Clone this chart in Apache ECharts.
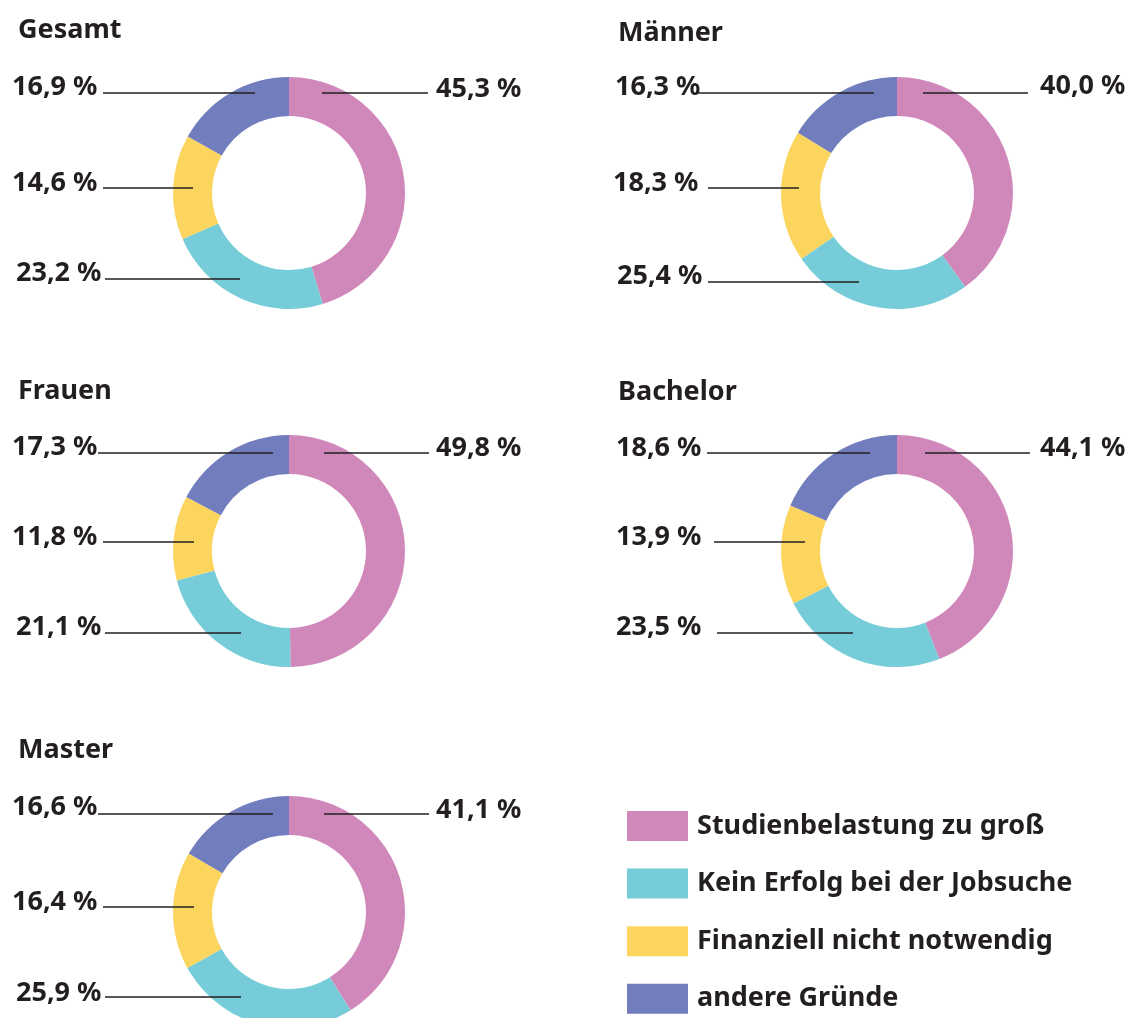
<!DOCTYPE html>
<html>
<head>
<meta charset="utf-8">
<title>Gründe</title>
<script src="https://cdn.jsdelivr.net/npm/echarts@6/dist/echarts.min.js"></script>
<style>
	html, body {margin:0; padding:0; background:#fff;}
	#main {width:1133px; height:1018px;}
</style>
</head>
<body>
<div id="main"></div>
<script>
//Kategorien (Legende)
var categories = ['Studienbelastung zu groß', 'Kein Erfolg bei der Jobsuche', 'Finanziell nicht notwendig', 'andere Gründe'];
//Gruppen (je ein Ring)
var groups = ['Gesamt', 'Männer', 'Frauen', 'Bachelor', 'Master'];
//Werte in %
var studienbelastung = [45.3, 40.0, 49.8, 44.1, 41.1];
var keinErfolg       = [23.2, 25.4, 21.1, 23.5, 25.9];
var finanziell       = [14.6, 18.3, 11.8, 13.9, 16.4];
var andere           = [16.9, 16.3, 17.3, 18.6, 16.6];

var colors    = ['#d088ba', '#76ccd8', '#fcd55f', '#717dbc'];
var textColor = '#231f20';
var fontName  = 'Noto Sans';

//Mittelpunkte der Ringe / Titelpositionen (Mitte der Schrift)
var centers   = [[289, 193], [897, 193], [289, 551], [897, 551], [289, 912]];
var titlePos  = [[18, 32], [618, 35], [18, 393], [618, 394], [18, 752]];
//Beschriftung: [labelX, labelY, linie start (im Ring), linie ende, linieY] je Segment
var labelPos = [
	[[436, 89, 322, 428, 93],   [16, 273, 240, 105, 279],  [12, 183, 193, 103, 188], [12, 87, 255, 103, 93]],
	[[1040, 86, 923, 1028, 93], [617, 276, 859, 708, 282], [613, 183, 799, 708, 188], [615, 87, 874, 697, 93]],
	[[436, 448, 324, 429, 453], [16, 627, 241, 105, 633],  [12, 537, 194, 103, 542], [12, 447, 273, 98, 453]],
	[[1040, 448, 925, 1030, 453], [616, 627, 853, 717, 633], [616, 537, 805, 714, 542], [616, 448, 870, 707, 453]],
	[[436, 810, 324, 429, 814], [16, 993, 241, 105, 997],  [12, 902, 194, 103, 907], [12, 807, 273, 98, 814]]
];

var fmt = function (v) {
	return v.toFixed(1).replace('.', ',') + ' %';
};

var myChart = echarts.init(document.getElementById('main'), null, {renderer: 'canvas'});

var titles = [];
var series = [];
for (var i = 0; i < groups.length; i++) {
	titles.push({
		text: groups[i],
		left: titlePos[i][0],
		top: titlePos[i][1] - 15,
		padding: 0,
		textStyle: {fontFamily: fontName, fontSize: 27, fontWeight: 'bold', color: textColor}
	});
	var values = [studienbelastung[i], keinErfolg[i], finanziell[i], andere[i]];
	var data = [];
	for (var j = 0; j < categories.length; j++) {
		data.push({name: categories[j], value: values[j]});
	}
	//farbige Ringe
	series.push({
		name: groups[i],
		type: 'pie',
		center: centers[i],
		radius: [77, 116],
		startAngle: 90,
		clockwise: true,
		silent: true,
		z: 2,
		itemStyle: {borderWidth: 0},
		label: {show: false},
		labelLine: {show: false},
		data: data
	});
	//durchsichtiger Ring darüber, nur für Beschriftung + Linien (liegen so über den Segmenten)
	series.push({
		name: groups[i] + ' Beschriftung',
		type: 'pie',
		center: centers[i],
		radius: [77, 116],
		startAngle: 90,
		clockwise: true,
		avoidLabelOverlap: false,
		silent: true,
		legendHoverLink: false,
		z: 5,
		itemStyle: {color: 'rgba(0,0,0,0)', borderWidth: 0},
		label: {
			show: true,
			formatter: function (p) { return fmt(p.value); },
			fontFamily: fontName,
			fontSize: 27,
			fontWeight: 'bold',
			color: textColor
		},
		labelLine: {show: true, smooth: false, lineStyle: {color: textColor, width: 1.3}},
		labelLayout: function (params) {
			var L = labelPos[Math.floor(params.seriesIndex / 2)][params.dataIndex];
			return {
				x: L[0],
				y: L[1],
				align: 'left',
				verticalAlign: 'middle',
				labelLinePoints: [[L[2], L[4]], [(L[2] + L[3]) / 2, L[4]], [L[3], L[4]]]
			};
		},
		data: data
	});
}

var legendData = [];
for (var k = 0; k < categories.length; k++) {
	legendData.push({name: categories[k], itemStyle: {color: colors[k]}});
}

var option = {
	animation: false,
	color: colors,
	title: titles,
	legend: {
		orient: 'vertical',
		left: 627,
		top: 811,
		padding: 0,
		itemWidth: 61,
		itemHeight: 30,
		itemGap: 27.6,
		icon: 'rect',
		selectedMode: false,
		data: legendData,
		textStyle: {fontFamily: fontName, fontSize: 27, fontWeight: 'bold', color: textColor, padding: [0, 0, 0, 4]}
	},
	series: series
};
myChart.setOption(option);
</script>
</body>
</html>
